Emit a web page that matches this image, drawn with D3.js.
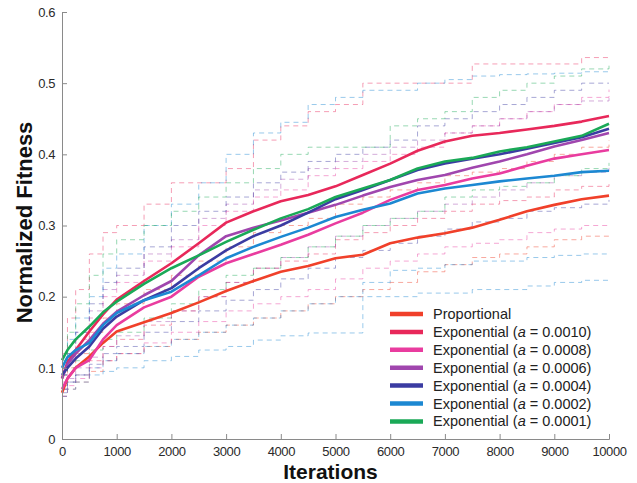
<!DOCTYPE html>
<html>
<head>
<meta charset="utf-8">
<script src="https://cdn.jsdelivr.net/npm/d3@7"></script>
<style>
  body { margin: 0; background: #fff; }
  text { font-family: "Liberation Sans", Arial, Helvetica, sans-serif; }
</style>
</head>
<body>
<div id="chart"></div>
<script>
// iteration grid shared by every series
const ITER = [0, 100, 250, 500, 750, 1000, 1500, 2000, 2500, 3000, 3500, 4000,
  4500, 5000, 5500, 6000, 6500, 7000, 7500, 8000, 8500, 9000, 9500, 10000];

const SERIES = ["Proportional", "Exponential (a = 0.0010)", "Exponential (a = 0.0008)",
  "Exponential (a = 0.0006)", "Exponential (a = 0.0004)", "Exponential (a = 0.0002)",
  "Exponential (a = 0.0001)"];
const A_VALUES = ["", "0.0010", "0.0008", "0.0006", "0.0004", "0.0002", "0.0001"];
const COLORS = ["#f0402a", "#e8285a", "#e93c9f", "#a046ae", "#3b3ca2", "#1c88d2", "#1aa957"];

// mean curves (solid)
const propMean = [0.065, 0.085, 0.100, 0.116, 0.135, 0.151, 0.164, 0.177, 0.192, 0.208, 0.222, 0.235,
  0.243, 0.254, 0.259, 0.275, 0.283, 0.289, 0.297, 0.308, 0.320, 0.329, 0.337, 0.342];
const exp0010Mean = [0.085, 0.108, 0.125, 0.151, 0.175, 0.196, 0.222, 0.247, 0.275, 0.304, 0.320, 0.334,
  0.343, 0.355, 0.371, 0.387, 0.405, 0.418, 0.426, 0.430, 0.435, 0.440, 0.446, 0.454];
const exp0008Mean = [0.070, 0.085, 0.100, 0.111, 0.140, 0.160, 0.185, 0.200, 0.228, 0.247, 0.260, 0.273,
  0.287, 0.303, 0.318, 0.336, 0.350, 0.357, 0.366, 0.373, 0.384, 0.394, 0.400, 0.406];
const exp0006Mean = [0.085, 0.105, 0.120, 0.139, 0.162, 0.179, 0.202, 0.222, 0.258, 0.285, 0.297, 0.307,
  0.318, 0.329, 0.342, 0.354, 0.364, 0.371, 0.381, 0.390, 0.400, 0.411, 0.420, 0.430];
const exp0004Mean = [0.090, 0.100, 0.113, 0.130, 0.155, 0.172, 0.195, 0.212, 0.240, 0.265, 0.285, 0.300,
  0.318, 0.337, 0.350, 0.364, 0.378, 0.387, 0.394, 0.400, 0.408, 0.416, 0.424, 0.436];
const exp0002Mean = [0.100, 0.115, 0.125, 0.135, 0.160, 0.177, 0.195, 0.207, 0.230, 0.254, 0.270, 0.284,
  0.297, 0.312, 0.322, 0.331, 0.345, 0.352, 0.357, 0.362, 0.366, 0.370, 0.375, 0.377];
const exp0001Mean = [0.111, 0.125, 0.140, 0.158, 0.178, 0.193, 0.218, 0.240, 0.258, 0.277, 0.294, 0.310,
  0.323, 0.340, 0.352, 0.364, 0.380, 0.390, 0.395, 0.404, 0.410, 0.418, 0.426, 0.443];

// spread curves (dashed)
const propUpper = [0.075, 0.100, 0.120, 0.150, 0.170, 0.190, 0.210, 0.230, 0.250, 0.270, 0.290, 0.300,
  0.310, 0.330, 0.340, 0.350, 0.360, 0.370, 0.375, 0.380, 0.390, 0.400, 0.410, 0.420];
const propLower = [0.060, 0.070, 0.080, 0.095, 0.110, 0.120, 0.130, 0.140, 0.150, 0.160, 0.170, 0.180,
  0.190, 0.200, 0.210, 0.220, 0.235, 0.245, 0.255, 0.260, 0.270, 0.280, 0.285, 0.287];
const exp0010Upper = [0.120, 0.170, 0.210, 0.260, 0.290, 0.300, 0.330, 0.360, 0.360, 0.380, 0.420, 0.440,
  0.460, 0.470, 0.500, 0.500, 0.500, 0.500, 0.527, 0.527, 0.527, 0.527, 0.536, 0.536];
const exp0010Lower = [0.070, 0.080, 0.090, 0.110, 0.130, 0.140, 0.160, 0.180, 0.200, 0.220, 0.240, 0.250,
  0.260, 0.280, 0.290, 0.300, 0.310, 0.320, 0.330, 0.335, 0.340, 0.350, 0.355, 0.360];
const exp0008Upper = [0.080, 0.110, 0.140, 0.170, 0.200, 0.220, 0.250, 0.270, 0.300, 0.320, 0.340, 0.350,
  0.370, 0.380, 0.390, 0.400, 0.410, 0.430, 0.440, 0.450, 0.460, 0.470, 0.480, 0.491];
const exp0008Lower = [0.060, 0.075, 0.085, 0.100, 0.110, 0.120, 0.135, 0.150, 0.165, 0.180, 0.190, 0.200,
  0.210, 0.225, 0.240, 0.250, 0.260, 0.270, 0.275, 0.280, 0.290, 0.295, 0.300, 0.303];
const exp0006Upper = [0.090, 0.120, 0.150, 0.180, 0.210, 0.230, 0.260, 0.280, 0.310, 0.330, 0.350, 0.365,
  0.380, 0.390, 0.400, 0.410, 0.420, 0.430, 0.440, 0.450, 0.460, 0.470, 0.475, 0.479];
const exp0006Lower = [0.070, 0.085, 0.100, 0.115, 0.130, 0.145, 0.165, 0.180, 0.200, 0.220, 0.240, 0.255,
  0.270, 0.285, 0.300, 0.310, 0.320, 0.330, 0.340, 0.350, 0.360, 0.370, 0.375, 0.381];
const exp0004Upper = [0.090, 0.120, 0.150, 0.190, 0.220, 0.240, 0.270, 0.300, 0.320, 0.340, 0.360, 0.375,
  0.390, 0.400, 0.410, 0.420, 0.440, 0.450, 0.460, 0.470, 0.480, 0.490, 0.500, 0.500];
const exp0004Lower = [0.065, 0.080, 0.090, 0.105, 0.120, 0.130, 0.150, 0.165, 0.180, 0.195, 0.210, 0.225,
  0.240, 0.255, 0.265, 0.275, 0.285, 0.295, 0.305, 0.310, 0.320, 0.325, 0.330, 0.336];
const exp0002Upper = [0.100, 0.140, 0.170, 0.200, 0.240, 0.260, 0.300, 0.330, 0.360, 0.400, 0.430, 0.445,
  0.470, 0.480, 0.490, 0.490, 0.500, 0.505, 0.510, 0.512, 0.513, 0.514, 0.516, 0.516];
const exp0002Lower = [0.060, 0.070, 0.080, 0.090, 0.095, 0.100, 0.110, 0.116, 0.125, 0.130, 0.139, 0.145,
  0.149, 0.149, 0.200, 0.200, 0.205, 0.205, 0.210, 0.210, 0.215, 0.220, 0.223, 0.223];
const exp0002Lower2 = [0.070, 0.080, 0.090, 0.100, 0.110, 0.120, 0.130, 0.140, 0.150, 0.160, 0.170, 0.180,
  0.190, 0.200, 0.220, 0.237, 0.240, 0.245, 0.250, 0.250, 0.255, 0.258, 0.260, 0.260];
const exp0001Upper = [0.110, 0.150, 0.190, 0.230, 0.260, 0.280, 0.300, 0.320, 0.340, 0.360, 0.380, 0.400,
  0.410, 0.410, 0.410, 0.440, 0.450, 0.460, 0.480, 0.490, 0.500, 0.510, 0.520, 0.529];
const exp0001Lower = [0.090, 0.100, 0.110, 0.125, 0.140, 0.150, 0.170, 0.190, 0.210, 0.230, 0.240, 0.255,
  0.270, 0.285, 0.300, 0.310, 0.320, 0.340, 0.350, 0.355, 0.360, 0.370, 0.380, 0.388];

const means = [propMean, exp0010Mean, exp0008Mean, exp0006Mean, exp0004Mean, exp0002Mean, exp0001Mean];
const spreads = [
  [0, propUpper], [0, propLower], [1, exp0010Upper], [1, exp0010Lower],
  [2, exp0008Upper], [2, exp0008Lower], [3, exp0006Upper], [3, exp0006Lower],
  [4, exp0004Upper], [4, exp0004Lower], [5, exp0002Upper], [5, exp0002Lower],
  [5, exp0002Lower2], [6, exp0001Upper], [6, exp0001Lower]
];

const X_TICKS = [0, 1000, 2000, 3000, 4000, 5000, 6000, 7000, 8000, 9000, 10000];
const Y_TICKS = [0, 0.1, 0.2, 0.3, 0.4, 0.5, 0.6];

const W = 637, H = 483;
const margin = { top: 12, right: 28, bottom: 44, left: 62 };

const svg = d3.select("#chart").append("svg")
  .attr("width", W).attr("height", H);

const x = d3.scaleLinear().domain([0, 10000]).range([margin.left, W - margin.right]);
const y = d3.scaleLinear().domain([0, 0.6]).range([H - margin.bottom, margin.top]);

const line = d3.line().x((d, i) => x(ITER[i])).y(d => y(d));
const stepLine = d3.line().x((d, i) => x(ITER[i])).y(d => y(d)).curve(d3.curveStepAfter);

// dashed spreads
svg.append("g").selectAll("path")
  .data(spreads)
  .join("path")
  .attr("d", d => stepLine(d[1]))
  .attr("fill", "none")
  .attr("stroke", d => COLORS[d[0]])
  .attr("stroke-opacity", 0.45)
  .attr("stroke-width", 1)
  .attr("stroke-dasharray", "5,4");

// solid means
svg.append("g").selectAll("path")
  .data(means)
  .join("path")
  .attr("d", d => line(d))
  .attr("fill", "none")
  .attr("stroke", (d, i) => COLORS[i])
  .attr("stroke-width", 2.6)
  .attr("stroke-linejoin", "round");

// axes
const xAxis = svg.append("g")
  .attr("transform", `translate(0,${y(0)})`)
  .call(d3.axisBottom(x).tickValues(X_TICKS).tickFormat(d3.format("d")).tickSize(-5).tickPadding(8));
const yAxis = svg.append("g")
  .attr("transform", `translate(${x(0)},0)`)
  .call(d3.axisLeft(y).tickValues(Y_TICKS).tickFormat(d => d === 0 ? "0" : d3.format(".1f")(d)).tickSize(-5).tickPadding(7));

[xAxis, yAxis].forEach(ax => {
  ax.select(".domain").attr("stroke", "#8a8a8a");
  ax.selectAll(".tick line").attr("stroke", "#8a8a8a");
  ax.selectAll(".tick text").attr("fill", "#2a2a2a").style("font-size", "13px")
    .style("letter-spacing", "-0.4px");
});

// axis titles
svg.append("text")
  .attr("x", x(5000) - 5).attr("y", 479)
  .attr("text-anchor", "middle")
  .style("font-size", "21px").style("font-weight", "bold")
  .attr("fill", "#111")
  .text("Iterations");

svg.append("text")
  .attr("transform", `translate(32,${y(0.3) - 3}) rotate(-90)`)
  .attr("text-anchor", "middle")
  .style("font-size", "22px").style("font-weight", "bold")
  .attr("fill", "#111")
  .text("Normalized Fitness");

// legend
const legend = svg.append("g").attr("transform", "translate(390,314)");
const rows = legend.selectAll("g")
  .data(SERIES)
  .join("g")
  .attr("transform", (d, i) => `translate(0,${i * 17.9})`);

rows.append("line")
  .attr("x1", 0).attr("x2", 33)
  .attr("stroke", (d, i) => COLORS[i])
  .attr("stroke-width", 4.5);

const labels = rows.append("text")
  .attr("x", 43).attr("y", 5)
  .attr("fill", "#222")
  .style("font-size", "14.5px");

labels.each(function (d, i) {
  const t = d3.select(this);
  if (i === 0) { t.text(d); return; }
  t.append("tspan").text("Exponential (");
  t.append("tspan").style("font-style", "italic").text("a");
  t.append("tspan").text(" = " + A_VALUES[i] + ")");
});
</script>
</body>
</html>
